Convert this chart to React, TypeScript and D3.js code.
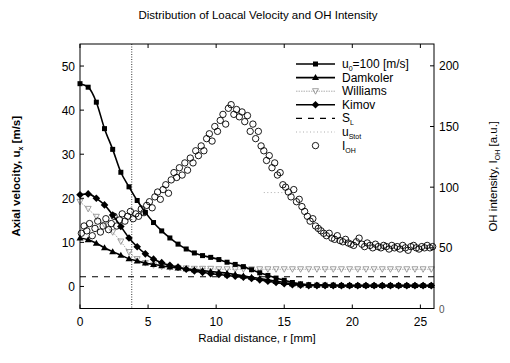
import React from "react";
import * as d3 from "d3";

const xGrid = [0, 0.6, 1.2, 1.8, 2.4, 3.0, 3.6, 4.2, 4.8, 5.4, 6.0, 6.6, 7.2, 7.8, 8.4, 9.0, 9.6, 10.2, 10.8, 11.4, 12.0, 12.6, 13.2, 13.8, 14.4, 15.0, 15.6, 16.2, 16.8, 17.4, 18.0, 18.6, 19.2, 19.8, 20.4, 21.0, 21.6, 22.2, 22.8, 23.4, 24.0, 24.6, 25.2, 25.8];

const u0 = [46.0, 45.2, 41.8, 35.8, 31.1, 25.9, 22.6, 19.5, 16.8, 14.5, 12.6, 11.0, 9.6, 8.5, 7.6, 7.0, 6.6, 6.1, 5.5, 5.0, 4.5, 3.8, 3.1, 2.5, 1.9, 1.4, 0.9, 0.6, 0.4, 0.3, 0.3, 0.3, 0.2, 0.2, 0.2, 0.2, 0.2, 0.2, 0.2, 0.2, 0.2, 0.2, 0.2, 0.2];
const damkoler = [11.0, 10.6, 9.8, 8.8, 7.9, 7.1, 6.3, 5.8, 5.3, 5.0, 4.7, 4.4, 4.2, 4.0, 3.8, 3.6, 3.4, 3.2, 3.0, 2.7, 2.4, 2.1, 1.8, 1.5, 1.2, 0.9, 0.6, 0.4, 0.3, 0.3, 0.3, 0.2, 0.2, 0.2, 0.2, 0.2, 0.2, 0.2, 0.2, 0.2, 0.2, 0.2, 0.2, 0.2];
const williams = [19.2, 17.6, 15.8, 14.0, 12.3, 10.2, 7.8, 6.2, 5.3, 4.8, 4.5, 4.3, 4.2, 4.1, 4.0, 4.0, 4.0, 3.9, 3.9, 3.9, 3.9, 3.9, 3.9, 3.9, 3.9, 3.9, 3.9, 3.9, 3.9, 3.9, 3.9, 3.9, 3.9, 3.9, 3.9, 3.9, 3.9, 3.9, 3.9, 3.9, 3.9, 3.9, 3.9, 3.9];
const kimov = [20.8, 21.0, 20.0, 18.5, 16.2, 13.6, 11.0, 9.0, 7.4, 6.2, 5.4, 4.8, 4.4, 3.9, 3.5, 3.2, 2.9, 2.7, 2.5, 2.3, 2.1, 1.8, 1.5, 1.2, 0.9, 0.6, 0.4, 0.3, 0.2, 0.2, 0.2, 0.2, 0.2, 0.2, 0.2, 0.2, 0.2, 0.2, 0.2, 0.2, 0.2, 0.2, 0.2, 0.2];
const sL = 2.2;
const uStotX = [13.5, 15.3];
const uStot = 21.3;
const markerLineX = 3.8;

const ohX = [0.1, 0.3, 0.5, 0.7, 0.9, 1.1, 1.3, 1.5, 1.7, 1.9, 2.1, 2.3, 2.5, 2.7, 2.9, 3.1, 3.3, 3.5, 3.7, 3.9, 4.1, 4.3, 4.5, 4.7, 4.9, 5.1, 5.3, 5.5, 5.7, 5.9, 6.1, 6.3, 6.5, 6.7, 6.9, 7.1, 7.3, 7.5, 7.7, 7.9, 8.1, 8.3, 8.5, 8.7, 8.9, 9.1, 9.3, 9.5, 9.7, 9.9, 10.1, 10.3, 10.5, 10.7, 10.9, 11.1, 11.3, 11.5, 11.7, 11.9, 12.1, 12.3, 12.5, 12.7, 12.9, 13.1, 13.3, 13.5, 13.7, 13.9, 14.1, 14.3, 14.5, 14.7, 14.9, 15.1, 15.3, 15.5, 15.7, 15.9, 16.1, 16.3, 16.5, 16.7, 16.9, 17.1, 17.3, 17.5, 17.7, 17.9, 18.1, 18.3, 18.5, 18.7, 18.9, 19.1, 19.3, 19.5, 19.7, 19.9, 20.1, 20.3, 20.5, 20.7, 20.9, 21.1, 21.3, 21.5, 21.7, 21.9, 22.1, 22.3, 22.5, 22.7, 22.9, 23.1, 23.3, 23.5, 23.7, 23.9, 24.1, 24.3, 24.5, 24.7, 24.9, 25.1, 25.3, 25.5, 25.7, 25.9];
const ohY = [62, 68, 64, 70, 60, 66, 72, 63, 68, 74, 65, 70, 76, 68, 73, 78, 72, 76, 80, 74, 78, 76, 82, 79, 85, 88, 83, 92, 96, 90, 98, 102, 95, 106, 112, 108, 116, 110, 120, 114, 124, 120, 130, 126, 134, 130, 140, 144, 138, 150, 146, 155, 160, 152, 165, 168, 160, 164, 158, 162, 154, 159, 146, 152, 140, 146, 134, 130, 122, 126, 116, 120, 110, 112, 102, 100, 96, 92, 98, 88, 90, 84, 80, 76, 72, 74, 68, 66, 64, 62, 60, 62, 58, 57, 60, 56, 55, 57, 54, 53, 52, 55, 58, 53, 51, 54, 52, 50, 53, 51, 50, 52, 51, 49, 52, 50, 51, 49, 52, 50, 48, 51, 52, 50, 49, 51, 50, 52, 50, 51];

const xTicks = [0, 5, 10, 15, 20, 25];
const yTicks = [0, 10, 20, 30, 40, 50];
const y2Ticks = [0, 50, 100, 150, 200];

const legendLabels = ["u0", "Damkoler", "Williams", "Kimov", "SL", "uStot", "IOH"];

const FONT = "'Liberation Sans', Arial, Helvetica, sans-serif";
const W = 510, H = 363;
const L = 80, R = 434, T = 44, B = 308.5;

function Square({ x, y }: { x: number; y: number }) {
  return <rect x={x - 2.5} y={y - 2.5} width={5} height={5} fill="#000" />;
}
function Tri({ x, y }: { x: number; y: number }) {
  return <path d={`M${x},${y - 3.5}L${x + 3.5},${y + 2.5}L${x - 3.5},${y + 2.5}Z`} fill="#000" />;
}
function Diamond({ x, y }: { x: number; y: number }) {
  return <path d={`M${x},${y - 3.8}L${x + 3.8},${y}L${x},${y + 3.8}L${x - 3.8},${y}Z`} fill="#000" />;
}
function TriDown({ x, y }: { x: number; y: number }) {
  return <path d={`M${x - 3},${y - 2.5}L${x + 3},${y - 2.5}L${x},${y + 3}Z`} fill="none" stroke="#888" strokeWidth={0.8} />;
}

export default function App() {
  const x = d3.scaleLinear().domain([0, 26]).range([L, R]);
  const y = d3.scaleLinear().domain([-5, 55]).range([B, T]);
  const y2 = d3.scaleLinear().domain([0, 218]).range([B, T]);
  const line = d3.line<number>().x((_, i) => x(xGrid[i])).y((d) => y(d)).curve(d3.curveMonotoneX);

  const legX0 = 296, legX1 = 335, legTx = 342, legY0 = 64, legDy = 13.6;

  return (
    <svg width={W} height={H} style={{ position: "absolute", left: 0, top: 0, background: "#fff" }} fontFamily={FONT}>
      <rect x={0} y={0} width={W} height={H} fill="#fff" />
      <text x={258} y={19} textAnchor="middle" fontSize={11.5}>Distribution of Loacal Velocity and OH Intensity</text>

      <line x1={x(markerLineX)} x2={x(markerLineX)} y1={T} y2={B} stroke="#000" strokeWidth={0.8} strokeDasharray="1,1.5" />

      <line x1={x(0)} x2={x(26)} y1={y(sL)} y2={y(sL)} stroke="#000" strokeWidth={1.2} strokeDasharray="6,6" />
      <line x1={x(uStotX[0])} x2={x(uStotX[1])} y1={y(uStot)} y2={y(uStot)} stroke="#999" strokeWidth={0.8} strokeDasharray="1,2.5" />

      <path d={line(williams) || ""} fill="none" stroke="#999" strokeWidth={0.8} strokeDasharray="1.5,1" />
      {williams.map((v, i) => <TriDown key={"w" + i} x={x(xGrid[i])} y={y(v)} />)}

      <path d={line(damkoler) || ""} fill="none" stroke="#000" strokeWidth={1.6} />
      {damkoler.map((v, i) => <Tri key={"d" + i} x={x(xGrid[i])} y={y(v)} />)}

      <path d={line(kimov) || ""} fill="none" stroke="#000" strokeWidth={1.6} />
      {kimov.map((v, i) => <Diamond key={"k" + i} x={x(xGrid[i])} y={y(v)} />)}

      <path d={line(u0) || ""} fill="none" stroke="#000" strokeWidth={1.6} />
      {u0.map((v, i) => <Square key={"u" + i} x={x(xGrid[i])} y={y(v)} />)}

      {ohY.map((v, i) => (
        <circle key={"o" + i} cx={x(ohX[i])} cy={y2(v)} r={3.2} fill="none" stroke="#000" strokeWidth={0.9} />
      ))}

      <g>
        {legendLabels.map((_, i) => {
          const ly = legY0 + i * legDy;
          const mx = (legX0 + legX1) / 2;
          return (
            <g key={"lg" + i}>
              {i === 0 && <><line x1={legX0} x2={legX1} y1={ly} y2={ly} stroke="#000" strokeWidth={1.6} /><Square x={mx} y={ly} /></>}
              {i === 1 && <><line x1={legX0} x2={legX1} y1={ly} y2={ly} stroke="#000" strokeWidth={1.6} /><Tri x={mx} y={ly} /></>}
              {i === 2 && <><line x1={legX0} x2={legX1} y1={ly} y2={ly} stroke="#999" strokeWidth={0.8} strokeDasharray="1.5,1" /><TriDown x={mx} y={ly} /></>}
              {i === 3 && <><line x1={legX0} x2={legX1} y1={ly} y2={ly} stroke="#000" strokeWidth={1.6} /><Diamond x={mx} y={ly} /></>}
              {i === 4 && <line x1={legX0} x2={legX1} y1={ly} y2={ly} stroke="#000" strokeWidth={1.2} strokeDasharray="6,6" />}
              {i === 5 && <line x1={legX0} x2={legX1} y1={ly} y2={ly} stroke="#999" strokeWidth={0.8} strokeDasharray="1,2.5" />}
              {i === 6 && <circle cx={mx} cy={ly} r={3.2} fill="none" stroke="#000" strokeWidth={0.9} />}
            </g>
          );
        })}
        <text x={legTx} y={legY0 + 4} fontSize={12}>u<tspan fontSize={7} dy={3}>0</tspan><tspan dy={-3}>=100 [m/s]</tspan></text>
        <text x={legTx} y={legY0 + legDy + 4} fontSize={12}>Damkoler</text>
        <text x={legTx} y={legY0 + 2 * legDy + 4} fontSize={12}>Williams</text>
        <text x={legTx} y={legY0 + 3 * legDy + 4} fontSize={12}>Kimov</text>
        <text x={legTx} y={legY0 + 4 * legDy + 4} fontSize={12}>S<tspan fontSize={7} dy={3}>L</tspan></text>
        <text x={legTx} y={legY0 + 5 * legDy + 4} fontSize={12}>u<tspan fontSize={7} dy={3}>Stot</tspan></text>
        <text x={legTx} y={legY0 + 6 * legDy + 4} fontSize={12}>I<tspan fontSize={7} dy={3}>OH</tspan></text>
      </g>

      <rect x={L} y={T} width={R - L} height={B - T} fill="none" stroke="#000" strokeWidth={1} />

      {xTicks.map((t) => (
        <g key={"xt" + t}>
          <line x1={x(t)} x2={x(t)} y1={B} y2={B - 4} stroke="#000" />
          <line x1={x(t)} x2={x(t)} y1={T} y2={T + 4} stroke="#000" />
          <text x={x(t)} y={B + 17} textAnchor="middle" fontSize={12}>{t}</text>
        </g>
      ))}
      {yTicks.map((t) => (
        <g key={"yt" + t}>
          <line x1={L} x2={L + 4} y1={y(t)} y2={y(t)} stroke="#000" />
          <text x={L - 5} y={y(t) + 4.5} textAnchor="end" fontSize={12}>{t}</text>
        </g>
      ))}
      {y2Ticks.map((t) => (
        <g key={"y2t" + t}>
          <line x1={R} x2={R - 4} y1={y2(t)} y2={y2(t)} stroke="#000" />
          <text x={R + 5} y={y2(t) + 4.5} textAnchor="start" fontSize={t === 0 ? 10 : 12} fill={t === 0 ? "#555" : "#000"}>{t}</text>
        </g>
      ))}

      <text x={257} y={342} textAnchor="middle" fontSize={11.5}>Radial distance, r [mm]</text>
      <text transform={`translate(20,${(T + B) / 2}) rotate(-90)`} textAnchor="middle" fontSize={11.5} fontWeight="bold">
        Axial velocity, u<tspan fontSize={7} dy={3}>x</tspan><tspan dy={-3}> [m/s]</tspan>
      </text>
      <text transform={`translate(497,${(T + B) / 2}) rotate(-90)`} textAnchor="middle" fontSize={11.5}>
        OH intensity, I<tspan fontSize={7} dy={3}>OH</tspan><tspan dy={-3}> [a.u.]</tspan>
      </text>
    </svg>
  );
}
